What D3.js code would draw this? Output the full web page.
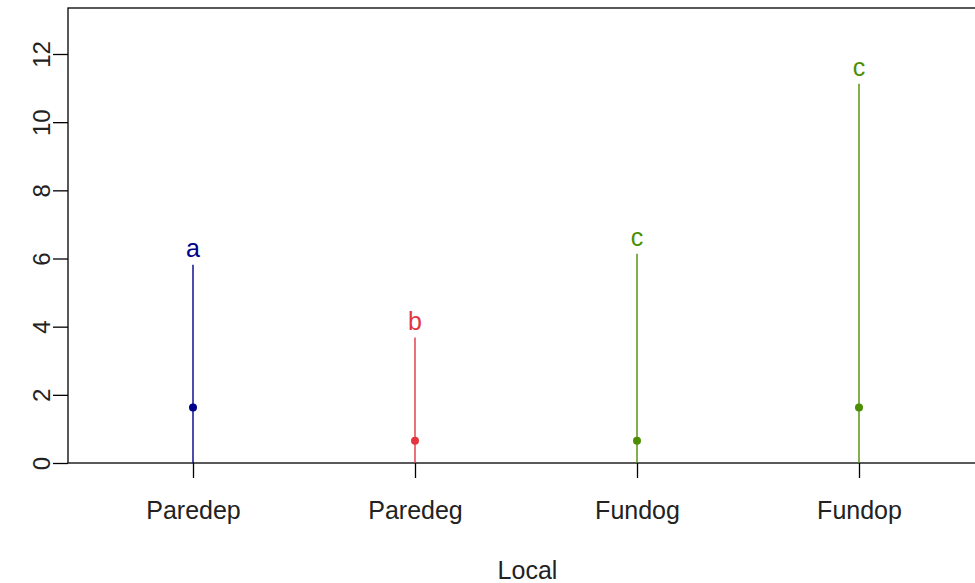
<!DOCTYPE html>
<html>
<head>
<meta charset="utf-8">
<script src="https://cdn.jsdelivr.net/npm/d3@7"></script>
<style>
html,body{margin:0;padding:0;background:#fff;}
svg{display:block;font-family:"Liberation Sans",Arial,sans-serif;}
</style>
</head>
<body>
<svg id="chart" width="975" height="583"></svg>
<script>
const categories = ["Paredep", "Paredeg", "Fundog", "Fundop"];
const maxValues = [5.82, 3.68, 6.14, 11.13];
const medianValues = [1.63, 0.65, 0.65, 1.63];
const letters = ["a", "b", "c", "c"];
const colors = ["#00008B", "#E2353F", "#4B8F00", "#4B8F00"];
const yTicks = [0, 2, 4, 6, 8, 10, 12];
const xLabel = "Local";

(function () {
const svg = d3.select("#chart");
const W = 975;
const mLeft = 68, mTop = 8, mBottom = 463, mRight = 1000;

const x = d3.scaleLinear().domain([1, 4]).range([193, 859]);
const y = d3.scaleLinear().domain([0, 12]).range([mBottom, 54]);

svg.append("rect")
  .attr("x", mLeft).attr("y", mTop)
  .attr("width", mRight - mLeft).attr("height", mBottom - mTop)
  .attr("fill", "none").attr("stroke", "#000").attr("stroke-width", 1.3);

const yAxis = d3.axisLeft(y).tickValues(yTicks).tickSize(15).tickFormat(d3.format("d"));
const gy = svg.append("g").attr("transform", `translate(${mLeft},0)`).call(yAxis);
gy.select(".domain").remove();
gy.selectAll(".tick line").attr("stroke", "#000").attr("stroke-width", 1.3);
gy.selectAll(".tick text")
  .attr("font-size", 24).attr("fill", "#222")
  .attr("x", null).attr("dy", null)
  .attr("text-anchor", "middle")
  .attr("transform", "translate(-27,0) rotate(-90)")
  .attr("dominant-baseline", "central");

const xAxis = d3.axisBottom(x).tickValues([1, 2, 3, 4]).tickSize(15)
  .tickFormat((d, i) => categories[i]);
const gx = svg.append("g").attr("transform", `translate(0,${mBottom})`).call(xAxis);
gx.select(".domain").remove();
gx.selectAll(".tick line").attr("stroke", "#000").attr("stroke-width", 1.3);
gx.selectAll(".tick text")
  .attr("font-size", 25).attr("fill", "#222")
  .attr("y", 47).attr("dy", null)
  .attr("dominant-baseline", "central");

svg.append("text")
  .attr("x", (mLeft + W) / 2 + 6).attr("y", 570)
  .attr("text-anchor", "middle").attr("dominant-baseline", "central")
  .attr("font-size", 25).attr("fill", "#222")
  .text(xLabel);

const data = categories.map((c, i) => ({c, i, max: maxValues[i], med: medianValues[i], letter: letters[i], color: colors[i]}));

svg.selectAll(".rng").data(data).enter().append("line")
  .attr("x1", d => x(d.i + 1)).attr("x2", d => x(d.i + 1))
  .attr("y1", y(0)).attr("y2", d => y(d.max))
  .attr("stroke", d => d.color).attr("stroke-width", 1.4);

svg.selectAll(".med").data(data).enter().append("circle")
  .attr("cx", d => x(d.i + 1)).attr("cy", d => y(d.med))
  .attr("r", 4).attr("fill", d => d.color);

svg.selectAll(".lt").data(data).enter().append("text")
  .attr("x", d => x(d.i + 1)).attr("y", d => y(d.max + 0.5))
  .attr("text-anchor", "middle").attr("dominant-baseline", "central")
  .attr("font-size", 25).attr("fill", d => d.color)
  .text(d => d.letter);
})();
</script>
</body>
</html>
